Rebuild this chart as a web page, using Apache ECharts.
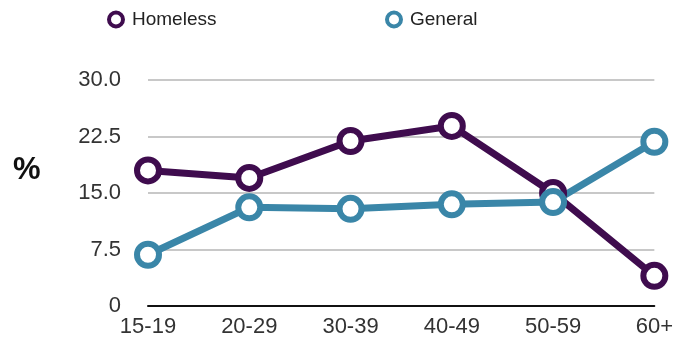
<!DOCTYPE html>
<html lang="en">
<head>
  <meta charset="UTF-8">
  <title>Homeless vs General by age</title>
  <style>
    * { margin: 0; padding: 0; box-sizing: border-box; }
    body { background: #fff; width: 676px; height: 346px; overflow: hidden; }
    #chart { width: 676px; height: 346px; }
  </style>
  <script src="https://cdn.jsdelivr.net/npm/echarts@6/dist/echarts.min.js"></script>
</head>
<body>
  <div id="chart"></div>
  <script>
    // data
    const ageGroups = ['15-19', '20-29', '30-39', '40-49', '50-59', '60+'];
    const homeless = [18.0, 17.0, 21.9, 23.9, 15.0, 4.0];
    const general = [6.8, 13.1, 12.9, 13.5, 13.8, 21.8];
    const seriesNames = ['Homeless', 'General'];
    const purple = '#3f0c4e';
    const blue = '#3a86a8';

    const chart = echarts.init(document.getElementById('chart'));

    function lineSeries(name, data, color) {
      return {
        name, type: 'line', data,
        symbol: 'circle', symbolSize: 22,
        lineStyle: { color, width: 7 },
        itemStyle: { color: '#fff', borderColor: color, borderWidth: 6 },
        emphasis: { disabled: true }
      };
    }

    chart.setOption({
      animation: false,
      textStyle: { fontFamily: 'Liberation Sans, Arial, sans-serif' },
      legend: [
        {
          left: 102, top: 5, icon: 'circle', itemWidth: 14, itemHeight: 14, itemGap: 0,
          textStyle: { fontSize: 19, color: '#222', padding: [0, 0, 0, 4] },
          data: [{ name: seriesNames[0], itemStyle: { color: '#fff', borderColor: purple, borderWidth: 4 } }]
        },
        {
          left: 380, top: 5, icon: 'circle', itemWidth: 14, itemHeight: 14, itemGap: 0,
          textStyle: { fontSize: 19, color: '#222', padding: [0, 0, 0, 4] },
          data: [{ name: seriesNames[1], itemStyle: { color: '#fff', borderColor: blue, borderWidth: 4 } }]
        }
      ],
      graphic: [{
        type: 'text', left: 13, top: 155,
        style: { text: '%', font: 'bold 31px Liberation Sans, Arial, sans-serif', fill: '#111' }
      }],
      grid: { left: 148, right: 21, top: 80, bottom: 40 },
      xAxis: {
        type: 'category', data: ageGroups, boundaryGap: false,
        axisLine: { lineStyle: { color: '#111', width: 2 } },
        axisTick: { show: false },
        axisLabel: { fontSize: 22, color: '#333', margin: 10 }
      },
      yAxis: {
        type: 'value', min: 0, max: 30, interval: 7.5,
        axisLine: { show: false }, axisTick: { show: false },
        splitLine: { lineStyle: { color: '#c8c8c8', width: 2 } },
        axisLabel: {
          fontSize: 22, color: '#333', margin: 27,
          formatter: v => v === 0 ? '0' : v.toFixed(1)
        }
      },
      series: [
        lineSeries(seriesNames[0], homeless, purple),
        lineSeries(seriesNames[1], general, blue)
      ]
    });
  </script>
</body>
</html>
